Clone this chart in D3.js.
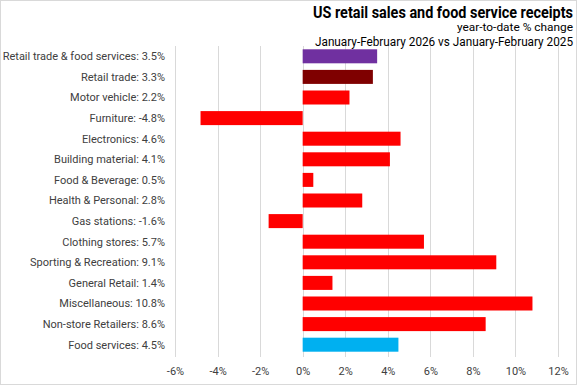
<!DOCTYPE html>
<html>
<head>
<meta charset="utf-8">
<script src="https://cdn.jsdelivr.net/npm/d3@7"></script>
<style>
	body { margin: 0; background: #fff; }
	svg { display: block; font-family: Roboto, 'Liberation Sans', sans-serif; }
</style>
</head>
<body>
<script>
const categories = [
	'Retail trade & food services', 'Retail trade', 'Motor vehicle', 'Furniture',
	'Electronics', 'Building material', 'Food & Beverage', 'Health & Personal',
	'Gas stations', 'Clothing stores', 'Sporting & Recreation', 'General Retail',
	'Miscellaneous', 'Non-store Retailers', 'Food services'
]
const values = [3.5, 3.3, 2.2, -4.8, 4.6, 4.1, 0.5, 2.8, -1.6, 5.7, 9.1, 1.4, 10.8, 8.6, 4.5]
const barColors = ['#7030A0', '#7F0000', '#FF0000', '#FF0000', '#FF0000', '#FF0000', '#FF0000', '#FF0000',
	'#FF0000', '#FF0000', '#FF0000', '#FF0000', '#FF0000', '#FF0000', '#00B0F0']
const xTicks = [-6, -4, -2, 0, 2, 4, 6, 8, 10, 12]

const W = 577
const H = 385

const data = categories.map((c, i) => ({ name: c, value: values[i], color: barColors[i] }))

const svg = d3.select('body').append('svg')
	.attr('width', W)
	.attr('height', H)

svg.append('rect')
	.attr('x', 0.5).attr('y', 0.5)
	.attr('width', W - 1).attr('height', H - 1)
	.attr('fill', '#fff')
	.attr('stroke', '#d9d9d9')

const x = d3.scaleLinear()
	.domain([-6, 12])
	.range([175, 558])

const y = d3.scaleBand()
	.domain(data.map(d => d.name))
	.range([46, 355])
	.paddingInner(0.32)
	.paddingOuter(0.16)

// gridlines
svg.append('g')
	.selectAll('line')
	.data(xTicks)
	.join('line')
		.attr('x1', d => Math.round(x(d)) + 0.5)
		.attr('x2', d => Math.round(x(d)) + 0.5)
		.attr('y1', 46)
		.attr('y2', 357)
		.attr('stroke', '#d9d9d9')

// bars
svg.append('g')
	.selectAll('rect')
	.data(data)
	.join('rect')
		.attr('x', d => x(Math.min(0, d.value)))
		.attr('width', d => Math.abs(x(d.value) - x(0)))
		.attr('y', d => y(d.name))
		.attr('height', y.bandwidth())
		.attr('fill', d => d.color)

// category labels
svg.append('g')
	.selectAll('text')
	.data(data)
	.join('text')
		.attr('x', 165)
		.attr('y', d => y(d.name) + y.bandwidth() / 2)
		.attr('dy', '0.35em')
		.attr('text-anchor', 'end')
		.attr('font-size', 11)
		.attr('fill', '#404040')
		.text(d => `${d.name}: ${d.value}%`)

// x axis
const xAxis = d3.axisBottom(x)
	.tickValues(xTicks)
	.tickFormat(d => d + '%')
	.tickSize(0)
	.tickPadding(10)

svg.append('g')
	.attr('transform', 'translate(0,357)')
	.call(xAxis)
	.call(g => g.select('.domain').remove())
	.call(g => g.selectAll('text')
		.attr('font-size', 11)
		.attr('font-family', 'Roboto, sans-serif')
		.attr('fill', '#404040'))

// titles, squeezed to the narrow widths of the original
svg.append('text')
	.attr('x', 573).attr('y', 18)
	.attr('text-anchor', 'end')
	.attr('font-size', 16)
	.attr('font-weight', 'bold')
	.attr('textLength', 260)
	.attr('lengthAdjust', 'spacingAndGlyphs')
	.attr('fill', '#000')
	.text('US retail sales and food service receipts')

svg.append('text')
	.attr('x', 573).attr('y', 31)
	.attr('text-anchor', 'end')
	.attr('font-size', 11)
	.attr('textLength', 116)
	.attr('lengthAdjust', 'spacingAndGlyphs')
	.attr('fill', '#000')
	.text('year-to-date  % change')

svg.append('text')
	.attr('x', 573).attr('y', 46)
	.attr('text-anchor', 'end')
	.attr('font-size', 12)
	.attr('textLength', 258)
	.attr('lengthAdjust', 'spacingAndGlyphs')
	.attr('fill', '#000')
	.text('January-February  2026 vs January-February  2025')
</script>
</body>
</html>
